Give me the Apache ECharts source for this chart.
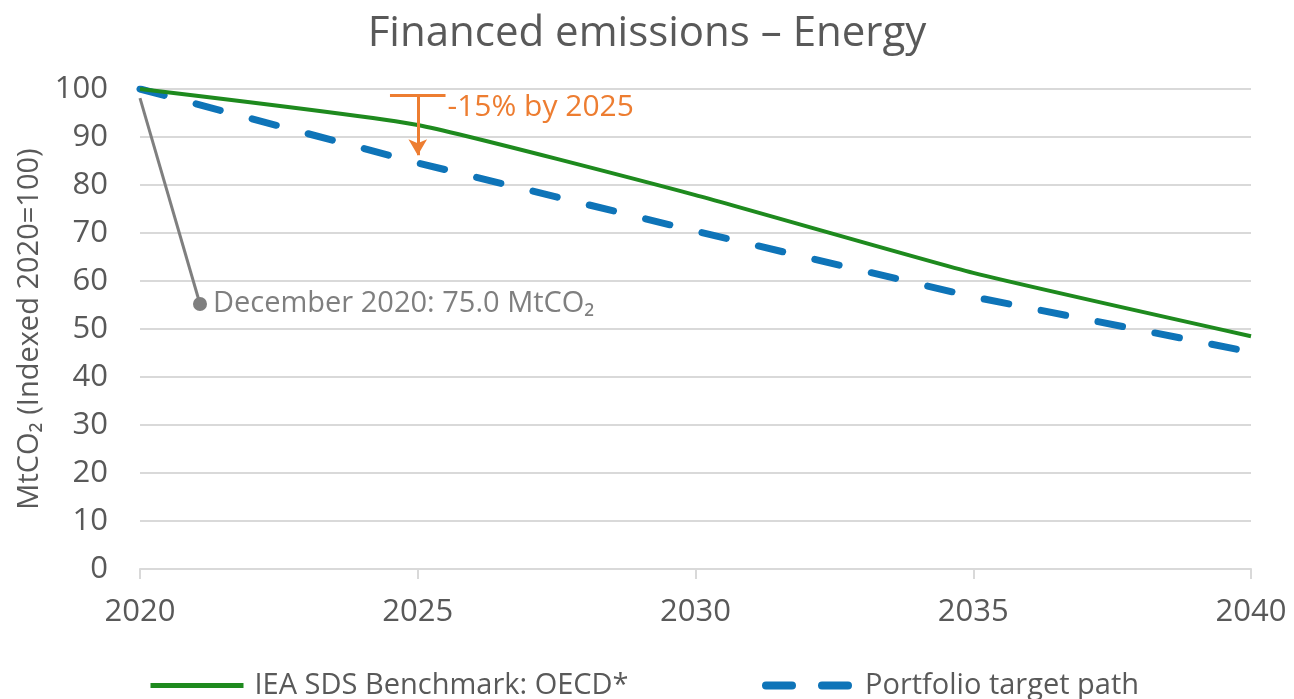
<!DOCTYPE html>
<html>
<head>
<meta charset="utf-8">
<title>Financed emissions – Energy</title>
<script src="https://cdn.jsdelivr.net/npm/echarts@6/dist/echarts.min.js"></script>
<style>
  html, body { margin: 0; padding: 0; background: #fff; }
  #chart { width: 1294px; height: 699px; }
</style>
</head>
<body>
<div id="chart"></div>
<script>
const years = [2020, 2025, 2030, 2035, 2040];
const benchmark = [100, 92.5, 77.9, 61.7, 48.5];
const portfolio = [100, 84.6, 70.4, 56.7, 45.2];

// callout: December 2020 actual
const calloutStart = [2020, 98.1];
const calloutEnd = [2021.08, 55.2];
const calloutText = 'December 2020: 75.0 MtCO₂';

// -15% target marker
const targetBar = [[2024.5, 98.8], [2025.5, 98.8]];
const targetArrow = [[2025, 98.8], [2025, 86.2]];
const targetText = '-15% by 2025';

const font = "'Open Sans', 'Noto Sans', sans-serif";
const textGray = '#595959';
const green = '#1e8a1e';
const blue = '#0e74b8';
const orange = '#ed7d31';
const gray = '#7f7f7f';

const zip = (xs, ys) => xs.map((x, i) => [x, ys[i]]);

const chart = echarts.init(document.getElementById('chart'), null, { renderer: 'canvas' });

chart.setOption({
  animation: false,
  backgroundColor: '#fff',
  textStyle: { fontFamily: font },
  title: {
    text: 'Financed emissions – Energy',
    left: 'center',
    top: 8,
    textStyle: { fontSize: 42, fontWeight: 'normal', color: textGray, fontFamily: font }
  },
  grid: { left: 140, right: 43, top: 89, bottom: 130 },
  legend: [
    {
      data: ['IEA SDS Benchmark: OECD*'],
      left: 143, top: 666,
      itemWidth: 93, itemHeight: 30,
      itemStyle: { opacity: 0 },
      lineStyle: { color: green, width: 5 },
      textStyle: { fontSize: 29, color: textGray, fontFamily: font, padding: [0, 0, 0, 6] }
    },
    {
      data: ['Portfolio target path'],
      left: 757, top: 666,
      itemWidth: 90, itemHeight: 30,
      itemStyle: { opacity: 0 },
      lineStyle: { color: blue, width: 8, type: [26, 30], cap: 'round' },
      textStyle: { fontSize: 29, color: textGray, fontFamily: font, padding: [0, 0, 0, 4] }
    }
  ],
  xAxis: {
    type: 'value',
    min: 2020, max: 2040, interval: 5,
    axisLine: { lineStyle: { color: '#d9d9d9', width: 2 } },
    axisTick: { show: true, length: 10, lineStyle: { color: '#d9d9d9', width: 2 } },
    splitLine: { show: false },
    axisLabel: {
      formatter: v => String(v),
      fontSize: 31, color: textGray, margin: 28, fontFamily: font
    }
  },
  yAxis: {
    type: 'value',
    min: 0, max: 100, interval: 10,
    name: 'MtCO₂ (Indexed 2020=100)',
    nameLocation: 'middle',
    nameGap: 96,
    nameTextStyle: { fontSize: 29, color: textGray, fontFamily: font },
    axisLine: { show: false },
    axisTick: { show: false },
    splitLine: { lineStyle: { color: '#d9d9d9', width: 2 } },
    axisLabel: { fontSize: 31, color: textGray, margin: 32, fontFamily: font }
  },
  series: [
    {
      name: 'IEA SDS Benchmark: OECD*',
      type: 'line',
      data: zip(years, benchmark),
      symbol: 'none',
      smooth: 0.15,
      lineStyle: { color: green, width: 4 },
      itemStyle: { color: green },
      z: 3,
      markLine: {
        silent: true,
        animation: false,
        label: { show: false },
        emphasis: { disabled: true },
        data: [
          [
            { coord: calloutStart, symbol: 'none', lineStyle: { color: gray, width: 3, type: 'solid' } },
            { coord: calloutEnd, symbol: 'none' }
          ],
          [
            { coord: targetBar[0], symbol: 'none', lineStyle: { color: orange, width: 3, type: 'solid' } },
            { coord: targetBar[1], symbol: 'none' }
          ],
          [
            { coord: targetArrow[0], symbol: 'none', lineStyle: { color: orange, width: 3, type: 'solid' } },
            { coord: targetArrow[1], symbol: 'arrow', symbolSize: [14, 16] }
          ]
        ]
      },
      markPoint: {
        silent: true,
        animation: false,
        data: [
          {
            coord: calloutEnd,
            symbol: 'circle',
            symbolSize: 14,
            itemStyle: { color: gray },
            label: {
              show: true, position: 'right', distance: 6,
              formatter: calloutText,
              fontSize: 29, color: gray, fontFamily: font
            }
          },
          {
            coord: targetBar[1],
            symbol: 'circle',
            symbolSize: 0,
            label: {
              show: true, position: 'right', distance: 2, offset: [0, 13],
              formatter: targetText,
              fontSize: 30, color: orange, fontFamily: font
            }
          }
        ]
      }
    },
    {
      name: 'Portfolio target path',
      type: 'line',
      data: zip(years, portfolio),
      symbol: 'none',
      lineStyle: { color: blue, width: 7, type: [25, 33], cap: 'round' },
      itemStyle: { color: blue },
      z: 2
    }
  ]
});
</script>
</body>
</html>
